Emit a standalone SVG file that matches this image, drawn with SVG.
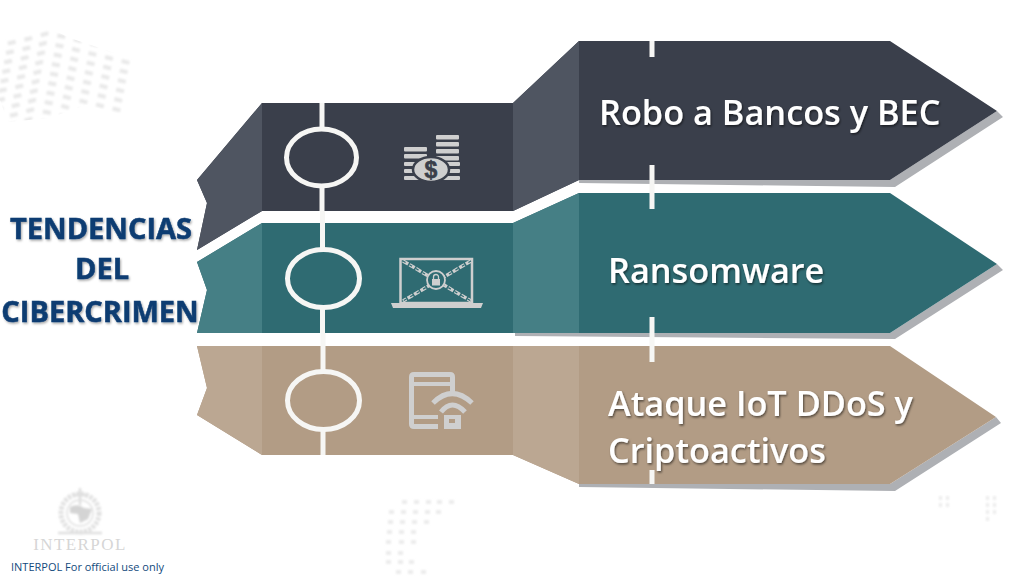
<svg xmlns="http://www.w3.org/2000/svg" width="1024" height="576" viewBox="0 0 1024 576">
<defs>
<filter id="ts" x="-5%" y="-20%" width="110%" height="140%"><feDropShadow dx="1" dy="1.500" stdDeviation="0.800" flood-color="#000" flood-opacity="0.550"/></filter>
<filter id="tt" x="-5%" y="-20%" width="110%" height="140%"><feDropShadow dx="1" dy="1.500" stdDeviation="1" flood-color="#000" flood-opacity="0.350"/></filter>
<filter id="soft" x="-5%" y="-5%" width="110%" height="110%"><feGaussianBlur stdDeviation="0.700"/></filter>
<filter id="blur" x="-10%" y="-10%" width="120%" height="120%"><feGaussianBlur stdDeviation="0.800"/></filter>
<clipPath id="dotclip"><path d="M0 40L49 28L70 38L135 60V112L119 114L86 105L49 118L8 122L0 100Z"/></clipPath>
<polyline id="dotrow" points="6 53 28 48 45 43 66 47 80 51 97 55 113 59 134 64" class="dotline"/>
</defs>
<style>
.lbl{font-family:"Open Sans","Liberation Sans",sans-serif;font-weight:600;font-size:34.300px;fill:#fff;filter:url(#ts)}
.title{font-family:"Open Sans","Liberation Sans",sans-serif;font-weight:700;font-size:29px;fill:#0b3c72;stroke:#0b3c72;stroke-width:0.500;text-anchor:middle;filter:url(#tt)}
.ring{fill:none;stroke:#f6f6f4;stroke-width:5}
.bar{stroke:#f6f6f4;stroke-width:5;fill:none}
.ico{fill:#cfcfcf}
.icos{fill:none;stroke:#cfcfcf}
.dotline{fill:none;stroke:#e9e9e9;stroke-width:4;stroke-dasharray:8 9}
.dots{fill:none;stroke:#ececec;stroke-width:4}
.shadow{fill:#aeb0b4;filter:url(#soft)}
</style>
<rect width="1024" height="576" fill="#fff"/>
<g id="background-dots">
<g clip-path="url(#dotclip)" filter="url(#blur)">
<use href="#dotrow" transform="translate(1.800 -9.500)"/>
<use href="#dotrow"/>
<use href="#dotrow" transform="translate(-1.800 9.500)"/>
<use href="#dotrow" transform="translate(-3.600 19)"/>
<use href="#dotrow" transform="translate(-5.400 28.500)"/>
<use href="#dotrow" transform="translate(-7.200 38)"/>
<use href="#dotrow" transform="translate(-9 47.500)"/>
<use href="#dotrow" transform="translate(-10.800 57)"/>
<use href="#dotrow" transform="translate(-12.600 66.500)"/>
<use href="#dotrow" transform="translate(-14.400 76)"/>
</g>
<path class="dots" filter="url(#blur)" d="M402 502h5M414 502h5M426 502h5M437 502h5M449 502h5M389 512h5M401 512h5M413 512h5M425 512h5M436 512h5M388 522h5M400 522h5M412 522h5M424 522h5M387 532h5M399 532h5M411 532h5M386 542h5M399 542h5M411 542h5M386 553h5M398 553h5M386 562h5M398 562h5M409 562h5M396 572h5M408 572h5M421 572h5"/>
<path class="dots" stroke-width="3" filter="url(#blur)" d="M939 498h3M946 498h3M939 505h3M946 505h3M986 498h3M993 498h3M986 505h3M993 505h3M986 512h3M993 512h3M986 519h3"/>
</g>
<g id="band-dark">
<path class="shadow" d="M997 111L1003 117L895 187L579 183V180H890Z"/>
<path d="M197 180L262 103H513L579 41H890L997 111L890 180H579L513 211H262L197 250L207 203Z" fill="#3a3f4b"/>
<path d="M197 180L262 103V211L197 250L207 203Z" fill="#4f5561"/>
<path d="M513 103L579 41V180L513 211Z" fill="#4f5561"/>
<path class="bar" d="M322 103V130M322 186V211M652 41V57M652 165V181"/>
<ellipse class="ring" cx="321.500" cy="157.500" rx="35" ry="28.500"/>
<g id="icon-money" class="ico">
<rect x="436" y="135" width="23" height="4.500" rx="1"/><rect x="436" y="142" width="23" height="4.500" rx="1"/><rect x="436" y="149" width="23" height="4.500" rx="1"/><rect x="436" y="156" width="23" height="4.500" rx="1"/>
<rect x="404" y="147" width="23" height="4.500" rx="1"/><rect x="404" y="154" width="23" height="4.500" rx="1"/>
<rect x="404" y="162" width="56" height="4" rx="1"/><rect x="404" y="169" width="56" height="4" rx="1"/><rect x="404" y="176" width="56" height="4" rx="1"/>
<ellipse cx="431" cy="169.500" rx="18" ry="12.500" stroke="#3a3f4b" stroke-width="2.500"/>
<text x="431" y="178" font-family="Liberation Sans,sans-serif" font-weight="700" font-size="23" text-anchor="middle" fill="#3a3f4b" stroke="#3a3f4b" stroke-width="0.600">$</text>
</g>
<text class="lbl" x="599" y="125">Robo a Bancos y BEC</text>
</g>
<g id="band-teal">
<path class="shadow" d="M997 264L1003 270L895 339L515 336V333H890Z"/>
<path d="M197 262L262 223H513L579 193H890L997 264L890 333H197L207 290Z" fill="#2f6b72"/>
<path d="M197 262L262 223V333H197L207 290Z" fill="#457f85"/>
<path d="M513 223L579 193V333H513Z" fill="#457f85"/>
<path class="bar" d="M322.500 211V250M322.500 307V333M652 181V209M652 317V333"/>
<ellipse class="ring" cx="323.500" cy="278.500" rx="36" ry="29"/>
<g id="icon-laptop">
<rect x="400.500" y="259" width="71.500" height="44" class="icos" stroke-width="2.500"/>
<path d="M391 303H483L481 308H393Z" class="ico"/>
<path d="M403 261L471 301M471 261L403 301" class="icos" stroke-width="3.500" stroke-dasharray="6 1.500"/>
<path d="M403 261L471 301M471 261L403 301" stroke="#2f6b72" fill="none" stroke-width="1.200" stroke-dasharray="3 4.500"/>
<circle cx="436" cy="280" r="9" fill="#2f6b72" stroke="#cfcfcf" stroke-width="1.800"/>
<rect x="432" y="279" width="8" height="6.500" class="ico"/>
<path d="M433.500 279V277A2.500 2.500 0 0 1 438.500 277V279" class="icos" stroke-width="1.300"/>
</g>
<text class="lbl" x="608" y="283">Ransomware</text>
</g>
<g id="band-tan">
<path class="shadow" d="M996 417L1001 423L895 491L579 487V484H890Z"/>
<path d="M197 346H890L996 417L890 484H579L513 455H262L197 415L207 388Z" fill="#b29c85"/>
<path d="M197 346H262V455L197 415L207 388Z" fill="#bba792"/>
<path d="M513 346H579V484L513 455Z" fill="#bba792"/>
<path class="bar" stroke="#f8f3ec" d="M323 333V372M323 430V455M652 333V362M652 470V484"/>
<ellipse class="ring" cx="323.500" cy="400.500" rx="36" ry="29"/>
<g id="icon-device">
<path d="M438 426.500H414Q411.500 426.500 411.500 424V377Q411.500 374.500 414 374.500H450Q452.500 374.500 452.500 377V392" class="icos" stroke-width="5"/>
<path d="M412 384H452M412 417H438" class="icos" stroke-width="4"/>
<path d="M433 403Q452 384 472 403M441 412Q452 398 465 412" class="icos" stroke-width="5"/>
<rect x="444" y="415" width="17" height="14" class="ico"/><rect x="449" y="419" width="6" height="4" fill="#b29c85"/>
</g>
<text class="lbl" x="608" y="416">Ataque IoT DDoS y</text>
<text class="lbl" x="608" y="463">Criptoactivos</text>
</g>
<g id="title">
<text class="title" x="101" y="239">TENDENCIAS</text>
<text class="title" x="102" y="279">DEL</text>
<text class="title" x="100" y="322">CIBERCRIMEN</text>
</g>
<g id="logo">
<g fill="none" stroke="#e0e0e0" filter="url(#blur)">
<circle cx="80" cy="513" r="19" stroke-width="5" stroke-dasharray="3 1.500"/>
<circle cx="80" cy="513" r="13" stroke-width="1.500"/>
<path d="M70 507Q78 503 84 508L92 509L88 519L80 523L78 514L70 513Z" fill="#d4d4d4" stroke="none"/>
<path d="M80 488V505M74 495H86M58 533H102" stroke-width="2.500"/>
</g>
<text x="80" y="550" font-family="Liberation Serif,serif" font-size="17" letter-spacing="1.400" fill="#d6d6d6" text-anchor="middle">INTERPOL</text>
</g>
<text id="footer" x="11" y="571" font-family="Open Sans,Liberation Sans,sans-serif" font-size="11" fill="#124a7c">INTERPOL For official use only</text>
</svg>
